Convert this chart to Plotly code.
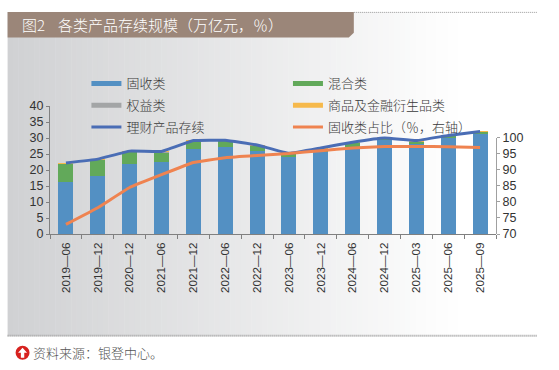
import plotly.graph_objects as go

categories = ["2019—06","2019—12","2020—12","2021—06","2021—12","2022—06","2022—12",
              "2023—06","2023—12","2024—06","2024—12","2025—03","2025—06","2025—09"]
fixed_income = [16.2,18.2,21.8,22.6,26.6,27.3,26.0,24.1,25.7,27.3,29.3,28.1,29.9,31.2]
mixed        = [5.9,5.0,3.9,3.0,2.4,1.8,1.6,1.0,1.0,1.2,0.7,0.9,0.8,0.7]
equity       = [0.05,0.05,0.1,0.1,0.1,0.1,0.08,0.05,0.05,0.05,0.05,0.05,0.05,0.05]
commodity    = [0.03,0.03,0.05,0.05,0.05,0.05,0.05,0.03,0.03,0.03,0.03,0.03,0.03,0.03]
total        = [22.2,23.4,25.9,25.8,29.2,29.3,27.8,25.2,26.9,28.7,30.0,29.2,30.8,32.0]
fi_share     = [73.0,78.2,84.5,88.5,92.3,93.8,94.5,95.1,96.0,96.8,97.3,97.3,97.2,97.0]
left_ticks   = [0,5,10,15,20,25,30,35,40]
right_ticks  = [70,75,80,85,90,95,100]

W, H = 559, 370
L, R, T, B = 49.5, 496.5, 105.7, 234.5
FONT = "Liberation Sans, Noto Sans CJK SC"
CJK = "Noto Sans CJK SC Light, Noto Sans CJK SC, Liberation Sans"
BLUE, GREEN, GREY, YELLOW, NAVY, ORANGE = "#5390c3", "#62a95a", "#a3a5a6", "#f6b94b", "#4a6db5", "#ef8350"

def px(x): return (x - L) / (R - L)
def py(y): return (B - y) / (B - T)

def lerp(a, b, t): return round(a + (b - a) * t)

shapes = []
x0, x1, n = 7, 538, 100
for i in range(n):
    t = min(1, i / (n * 0.85))
    c = f"rgb({lerp(208,255,t)},{lerp(209,255,t)},{lerp(211,255,t)})"
    a = x0 + (x1 - x0) * i / n
    b = x0 + (x1 - x0) * (i + 1) / n
    shapes.append(dict(type="rect", xref="paper", yref="paper", layer="below",
                       x0=px(a), x1=px(b + 0.5), y0=py(337), y1=py(11),
                       fillcolor=c, line_width=0))
shapes.append(dict(type="path", xref="paper", yref="paper", layer="below",
    path=f"M{px(7)},{py(11)} L{px(354)},{py(11)} L{px(354)},{py(32)} L{px(349)},{py(36.7)} L{px(7)},{py(36.7)} Z",
    fillcolor="#9b8679", line_width=0))
shapes.append(dict(type="line", xref="paper", yref="paper", x0=px(354), x1=px(538), y0=py(11.5), y1=py(11.5),
                   line=dict(color="#9a9a9a", width=1, dash="1px,1px")))
shapes.append(dict(type="line", xref="paper", yref="paper", x0=px(7), x1=px(538), y0=py(337), y1=py(337),
                   line=dict(color="#9a9a9a", width=2, dash="1px,1px")))
shapes.append(dict(type="circle", xref="paper", yref="paper", x0=px(15), x1=px(29), y0=py(361), y1=py(347),
                   fillcolor="#d7221f", line_width=0))
shapes.append(dict(type="path", xref="paper", yref="paper",
    path=f"M{px(22)},{py(349)} L{px(26.5)},{py(354)} L{px(23.7)},{py(354)} L{px(23.7)},{py(359)} L{px(20.3)},{py(359)} L{px(20.3)},{py(354)} L{px(17.5)},{py(354)} Z",
    fillcolor="white", line_width=0))

fig = go.Figure()
for name, vals, col in [("固收类", fixed_income, BLUE), ("混合类", mixed, GREEN),
                        ("权益类", equity, GREY), ("商品及金融衍生品类", commodity, YELLOW)]:
    fig.add_bar(x=categories, y=vals, name=name, marker=dict(color=col, line_width=0), showlegend=False)
fig.add_scatter(x=categories, y=total, mode="lines", name="理财产品存续", showlegend=False,
                line=dict(color=NAVY, width=3, shape="spline", smoothing=0.25))
fig.add_scatter(x=categories, y=fi_share, mode="lines", name="固收类占比（％，右轴）", yaxis="y2", showlegend=False,
                line=dict(color=ORANGE, width=3, shape="spline", smoothing=0.25))

entries = [("固收类", BLUE, 5, 87, 83), ("混合类", GREEN, 5, 289, 83),
           ("权益类", GREY, 5, 87, 105), ("商品及金融衍生品类", YELLOW, 5, 289, 105),
           ("理财产品存续", NAVY, 3, 87, 127), ("固收类占比（％，右轴）", ORANGE, 3, 289, 127)]
legends = {}
for i, (name, col, w, lx, ly) in enumerate(entries):
    key = "legend" if i == 0 else f"legend{i+1}"
    fig.add_scatter(x=[None], y=[None], mode="lines", name=name, legend=key, showlegend=True,
                    line=dict(color=col, width=w))
    legends[key] = dict(x=px(lx - 1), y=py(ly), xanchor="left", yanchor="middle", bgcolor="rgba(0,0,0,0)",
                        borderwidth=0, itemwidth=30, tracegroupgap=0,
                        font=dict(family=CJK, size=13, color="#3a3a3a"))

annotations = [
    dict(text="图2", x=px(19), y=py(24), xref="paper", yref="paper", xanchor="left", yanchor="middle",
         showarrow=False, font=dict(family=CJK, size=15, color="#ffffff")),
    dict(text="各类产品存续规模（万亿元，％）", x=px(56), y=py(24), xref="paper", yref="paper", xanchor="left",
         yanchor="middle", showarrow=False, font=dict(family=CJK, size=15, color="#ffffff")),
    dict(text="资料来源：银登中心。", x=px(30), y=py(354), xref="paper", yref="paper", xanchor="left",
         yanchor="middle", showarrow=False, font=dict(family=CJK, size=13, color="#555555")),
]

fig.update_layout(
    width=W, height=H, autosize=False,
    margin=dict(l=L, r=W - R, t=T, b=H - B),
    paper_bgcolor="white", plot_bgcolor="rgba(0,0,0,0)",
    barmode="stack", bargap=0.53,
    font=dict(family=FONT, size=12, color="#333333"),
    shapes=shapes, annotations=annotations,
    xaxis=dict(type="category", tickson="boundaries", ticks="outside", ticklen=4, tickcolor="#808080",
               showline=True, linecolor="#808080", linewidth=1, tickangle=-90, showgrid=False,
               tickfont=dict(family=FONT, size=11.6, color="#333333"), ticklabelstandoff=3),
    yaxis=dict(range=[0, 40], tickvals=left_ticks, ticks="outside", ticklen=3, tickcolor="#808080",
               showline=True, linecolor="#808080", linewidth=1, showgrid=False, zeroline=False,
               tickfont=dict(family=FONT, size=12.5, color="#333333")),
    yaxis2=dict(range=[70, 100], tickvals=right_ticks, side="right", anchor="x",
                domain=[0, (B - 137.7) / (B - T)], ticks="outside", ticklen=3, tickcolor="#a0a0a0",
                showline=True, linecolor="#a0a0a0", linewidth=1, showgrid=False, zeroline=False,
                tickfont=dict(family=FONT, size=12.5, color="#333333")),
    **legends,
)
fig.write_html("out.html", post_script="document.body.style.margin='0';",
               config=dict(displayModeBar=False))
